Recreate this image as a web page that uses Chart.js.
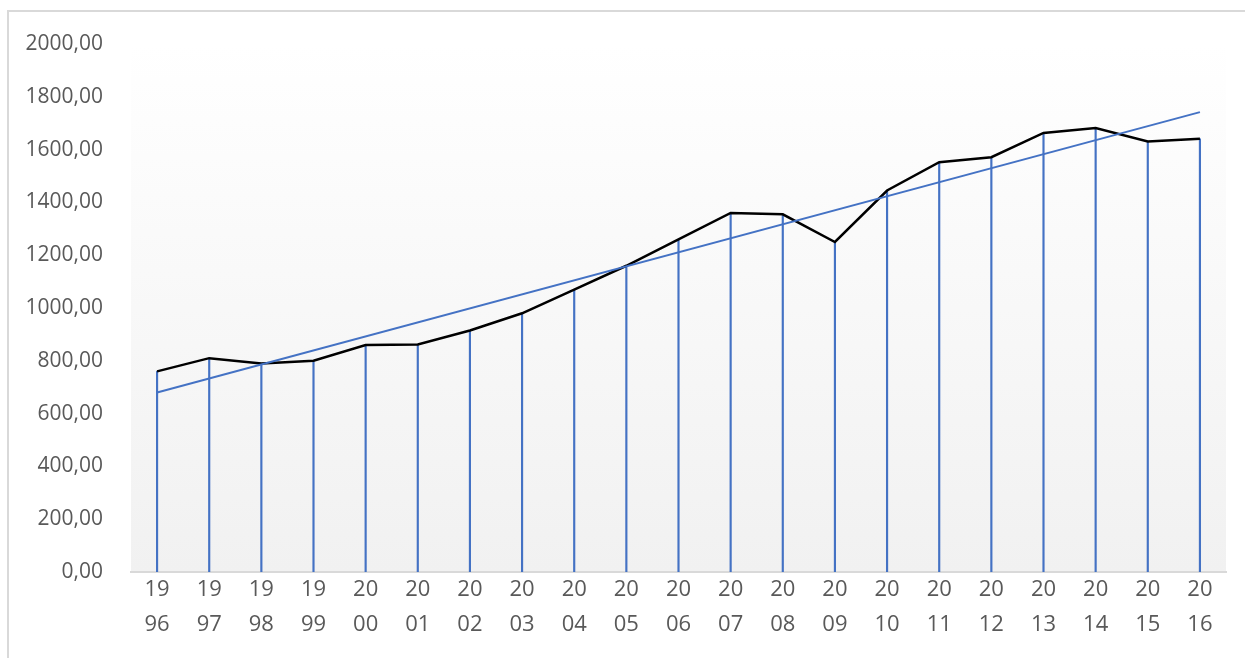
<!DOCTYPE html>
<html>
<head>
<meta charset="utf-8">
<script src="https://cdn.jsdelivr.net/npm/chart.js@4/dist/chart.umd.min.js"></script>
<style>
  html, body { margin: 0; padding: 0; background: #fff; overflow: hidden; }
  #wrap { position: relative; width: 1245px; height: 658px; }
</style>
</head>
<body>
<div id="wrap"><canvas id="chart" width="1245" height="658"></canvas></div>
<script>
// Dados
const years = ['1996', '1997', '1998', '1999', '2000', '2001', '2002', '2003', '2004', '2005', '2006',
               '2007', '2008', '2009', '2010', '2011', '2012', '2013', '2014', '2015', '2016'];
const values = [760, 810, 790, 800, 860, 862, 915, 980, 1070, 1160, 1260,
                1360, 1355, 1250, 1445, 1552, 1571, 1663, 1682, 1631, 1641];
// Linha de tendência (extremos)
const trendStart = 680;
const trendEnd = 1742;
const yTicks = [0, 200, 400, 600, 800, 1000, 1200, 1400, 1600, 1800, 2000];

const BLUE = '#4472c4';
const TEXT = '#595959';

// Rótulos do eixo x quebrados em duas linhas: "19" / "96"
const xLabels = years.map(y => [y.slice(0, 2), y.slice(2)]);
const trendData = years.map((_, i) => i === 0 ? trendStart : (i === years.length - 1 ? trendEnd : null));

const formatValue = (v) => v.toFixed(2).replace('.', ',');

// Fundo em degradê da área de plotagem + borda externa
const backgroundPlugin = {
    id: 'plotBackground',
    beforeDraw(chart) {
        const { ctx, chartArea: a } = chart;
        ctx.save();
        const grad = ctx.createLinearGradient(0, a.top, 0, a.bottom);
        grad.addColorStop(0, '#ffffff');
        grad.addColorStop(1, '#f1f1f1');
        ctx.fillStyle = grad;
        ctx.fillRect(a.left, a.top, a.right - a.left, a.bottom - a.top);

        ctx.strokeStyle = '#d9d9d9';
        ctx.lineWidth = 2;
        ctx.beginPath();
        ctx.moveTo(8, 660);
        ctx.lineTo(8, 11);
        ctx.lineTo(1250, 11);
        ctx.stroke();
        ctx.restore();
    }
};

function buildChart() {
    Chart.defaults.font.family = '"Open Sans", "Noto Sans", sans-serif';
    Chart.defaults.color = TEXT;

    new Chart(document.getElementById('chart').getContext('2d'), {
        data: {
            labels: xLabels,
            datasets: [
                {
                    type: 'line',
                    label: 'Tendência',
                    data: trendData,
                    borderColor: BLUE,
                    borderWidth: 2,
                    pointRadius: 0,
                    spanGaps: true,
                    order: 1
                },
                {
                    type: 'line',
                    label: 'Valores',
                    data: values,
                    borderColor: '#000000',
                    borderWidth: 2.5,
                    pointRadius: 0,
                    tension: 0,
                    order: 2
                },
                {
                    type: 'bar',
                    label: 'Linhas de projeção',
                    data: values,
                    backgroundColor: BLUE,
                    barThickness: 1.5,
                    order: 3
                }
            ]
        },
        options: {
            responsive: false,
            animation: false,
            layout: { padding: { left: 0, right: 19, top: 44, bottom: 0 } },
            plugins: {
                legend: { display: false },
                tooltip: { enabled: false }
            },
            scales: {
                x: {
                    offset: true,
                    grid: { display: false, drawTicks: false },
                    border: { display: true, color: '#d9d9d9', width: 2 },
                    ticks: {
                        font: { size: 22, lineHeight: 1.6 },
                        color: TEXT,
                        padding: 0,
                        maxRotation: 0,
                        autoSkip: false
                    },
                    afterFit: (scale) => { scale.height = 86; }
                },
                y: {
                    min: 0,
                    max: 2000,
                    afterBuildTicks: (scale) => { scale.ticks = yTicks.map(v => ({ value: v })); },
                    grid: { display: false, drawTicks: false },
                    border: { display: false },
                    ticks: {
                        font: { size: 21 },
                        color: TEXT,
                        padding: 28,
                        callback: (v) => formatValue(v)
                    },
                    afterFit: (scale) => { scale.width = 131; }
                }
            }
        },
        plugins: [backgroundPlugin]
    });
}

document.fonts.load('21px "Open Sans"').then(buildChart, buildChart);
</script>
</body>
</html>
